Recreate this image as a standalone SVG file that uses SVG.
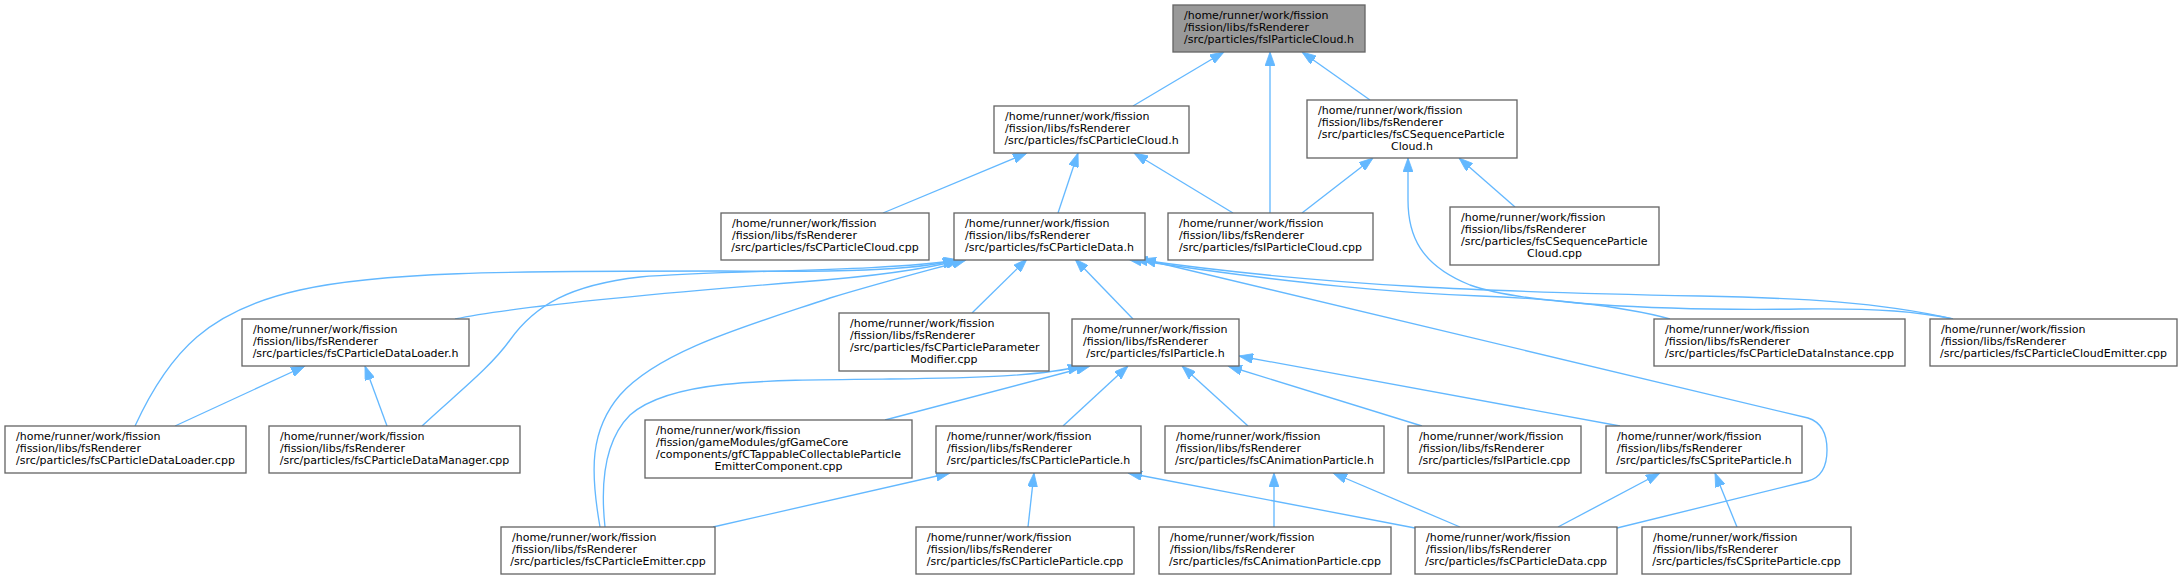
<svg xmlns="http://www.w3.org/2000/svg" width="2182" height="579" viewBox="0 0 2182 579">
<style>
.node rect{fill:#ffffff;stroke:#666666;stroke-width:1.33}
.root rect{fill:#999999}
text{font-family:"DejaVu Sans","Liberation Sans",sans-serif;font-size:11px;fill:#000000}
text.c{text-anchor:middle}
.edges path{fill:none;stroke:#63b8ff;stroke-width:1.33;marker-end:url(#a)}
</style>
<defs>
<marker id="a" viewBox="0 0 14 10" refX="14" refY="5" markerWidth="14" markerHeight="10" markerUnits="userSpaceOnUse" orient="auto"><path d="M0,0 L14,5 L0,10 Z" fill="#63b8ff" stroke="#63b8ff" stroke-width="0.8"/></marker>
</defs>
<rect width="2182" height="579" fill="#ffffff"/>
<g class="edges">
<path d="M1133,106 L1224,52"/>
<path d="M1270,213 L1270,52"/>
<path d="M1370,100 L1302,52"/>
<path d="M883,213 L1027,153"/>
<path d="M1058,213 L1078,153"/>
<path d="M1233,213 L1134,153"/>
<path d="M1302,213 L1373,158"/>
<path d="M1953,319 C1920,312 1880,308 1800,309 C1650,311 1520,303 1470,285 C1420,265 1408,235 1408,200 L1408,158"/>
<path d="M1515,207 L1459,158"/>
<path d="M455,319 C520,305 700,290 800,282 C880,276 930,268 960,260"/>
<path d="M135,426 C170,350 210,310 300,290 C380,272 500,271 720,271 C840,272 910,271 957,260"/>
<path d="M422,426 C455,395 490,368 510,340 C535,305 570,285 640,277 C720,270 880,272 958,260"/>
<path d="M600,527 C590,470 590,430 620,395 C660,350 750,325 830,298 C890,280 930,270 966,260"/>
<path d="M972,313 L1027,259"/>
<path d="M1133,319 L1075,259"/>
<path d="M1617,528 L1808,481 Q1827,476 1827,450 Q1827,424 1808,418 L1142,259"/>
<path d="M1670,319 C1620,305 1540,298 1480,296 C1400,293 1300,285 1128,259"/>
<path d="M1953,319 C1880,302 1800,298 1700,296 C1500,292 1330,287 1134,259"/>
<path d="M175,426 L305,366"/>
<path d="M387,426 L365,366"/>
<path d="M605,527 C600,480 605,440 630,415 C670,380 760,380 890,379 C980,378 1040,376 1082,366"/>
<path d="M885,420 L1090,366"/>
<path d="M1063,426 L1128,366"/>
<path d="M1248,426 L1182,366"/>
<path d="M1422,426 L1228,366"/>
<path d="M1620,426 L1239,356"/>
<path d="M713,527 L950,473"/>
<path d="M1028,527 L1034,473"/>
<path d="M1415,528 L1128,473"/>
<path d="M1274,527 L1274,473"/>
<path d="M1460,527 L1333,473"/>
<path d="M1558,527 L1660,473"/>
<path d="M1737,527 L1715,473"/>
</g>
<g id="root" class="node root"><rect x="1173" y="5" width="192" height="47"/><text x="1184" y="19">/home/runner/work/fission</text><text x="1184" y="31">/fission/libs/fsRenderer</text><text class="c" x="1269" y="43">/src/particles/fsIParticleCloud.h</text></g>
<g id="cloudh" class="node"><rect x="994" y="106" width="195" height="47"/><text x="1005" y="120">/home/runner/work/fission</text><text x="1005" y="132">/fission/libs/fsRenderer</text><text class="c" x="1091.5" y="144">/src/particles/fsCParticleCloud.h</text></g>
<g id="seqh" class="node"><rect x="1307" y="100" width="210" height="58"/><text x="1318" y="113.5">/home/runner/work/fission</text><text x="1318" y="125.5">/fission/libs/fsRenderer</text><text x="1318" y="137.5">/src/particles/fsCSequenceParticle</text><text class="c" x="1412" y="149.5">Cloud.h</text></g>
<g id="cloudcpp" class="node"><rect x="721" y="213" width="208" height="47"/><text x="732" y="227">/home/runner/work/fission</text><text x="732" y="239">/fission/libs/fsRenderer</text><text class="c" x="825" y="251">/src/particles/fsCParticleCloud.cpp</text></g>
<g id="datah" class="node"><rect x="954" y="213" width="191" height="47"/><text x="965" y="227">/home/runner/work/fission</text><text x="965" y="239">/fission/libs/fsRenderer</text><text class="c" x="1049.5" y="251">/src/particles/fsCParticleData.h</text></g>
<g id="ipcloudcpp" class="node"><rect x="1168" y="213" width="205" height="47"/><text x="1179" y="227">/home/runner/work/fission</text><text x="1179" y="239">/fission/libs/fsRenderer</text><text class="c" x="1270.5" y="251">/src/particles/fsIParticleCloud.cpp</text></g>
<g id="seqcpp" class="node"><rect x="1450" y="207" width="209" height="58"/><text x="1461" y="220.5">/home/runner/work/fission</text><text x="1461" y="232.5">/fission/libs/fsRenderer</text><text x="1461" y="244.5">/src/particles/fsCSequenceParticle</text><text class="c" x="1554.5" y="256.5">Cloud.cpp</text></g>
<g id="loaderh" class="node"><rect x="242" y="319" width="227" height="47"/><text x="253" y="333">/home/runner/work/fission</text><text x="253" y="345">/fission/libs/fsRenderer</text><text class="c" x="355.5" y="357">/src/particles/fsCParticleDataLoader.h</text></g>
<g id="parammod" class="node"><rect x="839" y="313" width="210" height="58"/><text x="850" y="326.5">/home/runner/work/fission</text><text x="850" y="338.5">/fission/libs/fsRenderer</text><text x="850" y="350.5">/src/particles/fsCParticleParameter</text><text class="c" x="944" y="362.5">Modifier.cpp</text></g>
<g id="iparticleh" class="node"><rect x="1072" y="319" width="167" height="47"/><text x="1083" y="333">/home/runner/work/fission</text><text x="1083" y="345">/fission/libs/fsRenderer</text><text class="c" x="1155.5" y="357">/src/particles/fsIParticle.h</text></g>
<g id="datainstance" class="node"><rect x="1654" y="319" width="251" height="47"/><text x="1665" y="333">/home/runner/work/fission</text><text x="1665" y="345">/fission/libs/fsRenderer</text><text class="c" x="1779.5" y="357">/src/particles/fsCParticleDataInstance.cpp</text></g>
<g id="cloudemitter" class="node"><rect x="1930" y="319" width="247" height="47"/><text x="1941" y="333">/home/runner/work/fission</text><text x="1941" y="345">/fission/libs/fsRenderer</text><text class="c" x="2053.5" y="357">/src/particles/fsCParticleCloudEmitter.cpp</text></g>
<g id="loadercpp" class="node"><rect x="5" y="426" width="241" height="47"/><text x="16" y="440">/home/runner/work/fission</text><text x="16" y="452">/fission/libs/fsRenderer</text><text class="c" x="125.5" y="464">/src/particles/fsCParticleDataLoader.cpp</text></g>
<g id="managercpp" class="node"><rect x="269" y="426" width="251" height="47"/><text x="280" y="440">/home/runner/work/fission</text><text x="280" y="452">/fission/libs/fsRenderer</text><text class="c" x="394.5" y="464">/src/particles/fsCParticleDataManager.cpp</text></g>
<g id="gfc" class="node"><rect x="645" y="420" width="267" height="58"/><text x="656" y="433.5">/home/runner/work/fission</text><text x="656" y="445.5">/fission/gameModules/gfGameCore</text><text x="656" y="457.5">/components/gfCTappableCollectableParticle</text><text class="c" x="778.5" y="469.5">EmitterComponent.cpp</text></g>
<g id="pph" class="node"><rect x="936" y="426" width="205" height="47"/><text x="947" y="440">/home/runner/work/fission</text><text x="947" y="452">/fission/libs/fsRenderer</text><text class="c" x="1038.5" y="464">/src/particles/fsCParticleParticle.h</text></g>
<g id="animh" class="node"><rect x="1165" y="426" width="219" height="47"/><text x="1176" y="440">/home/runner/work/fission</text><text x="1176" y="452">/fission/libs/fsRenderer</text><text class="c" x="1274.5" y="464">/src/particles/fsCAnimationParticle.h</text></g>
<g id="iparticlecpp" class="node"><rect x="1408" y="426" width="173" height="47"/><text x="1419" y="440">/home/runner/work/fission</text><text x="1419" y="452">/fission/libs/fsRenderer</text><text class="c" x="1494.5" y="464">/src/particles/fsIParticle.cpp</text></g>
<g id="spriteh" class="node"><rect x="1606" y="426" width="196" height="47"/><text x="1617" y="440">/home/runner/work/fission</text><text x="1617" y="452">/fission/libs/fsRenderer</text><text class="c" x="1704" y="464">/src/particles/fsCSpriteParticle.h</text></g>
<g id="emittercpp" class="node"><rect x="501" y="527" width="214" height="47"/><text x="512" y="541">/home/runner/work/fission</text><text x="512" y="553">/fission/libs/fsRenderer</text><text class="c" x="608" y="565">/src/particles/fsCParticleEmitter.cpp</text></g>
<g id="ppcpp" class="node"><rect x="916" y="527" width="218" height="47"/><text x="927" y="541">/home/runner/work/fission</text><text x="927" y="553">/fission/libs/fsRenderer</text><text class="c" x="1025" y="565">/src/particles/fsCParticleParticle.cpp</text></g>
<g id="animcpp" class="node"><rect x="1159" y="527" width="232" height="47"/><text x="1170" y="541">/home/runner/work/fission</text><text x="1170" y="553">/fission/libs/fsRenderer</text><text class="c" x="1275" y="565">/src/particles/fsCAnimationParticle.cpp</text></g>
<g id="datacpp" class="node"><rect x="1415" y="527" width="202" height="47"/><text x="1426" y="541">/home/runner/work/fission</text><text x="1426" y="553">/fission/libs/fsRenderer</text><text class="c" x="1516" y="565">/src/particles/fsCParticleData.cpp</text></g>
<g id="spritecpp" class="node"><rect x="1642" y="527" width="209" height="47"/><text x="1653" y="541">/home/runner/work/fission</text><text x="1653" y="553">/fission/libs/fsRenderer</text><text class="c" x="1746.5" y="565">/src/particles/fsCSpriteParticle.cpp</text></g>
</svg>
